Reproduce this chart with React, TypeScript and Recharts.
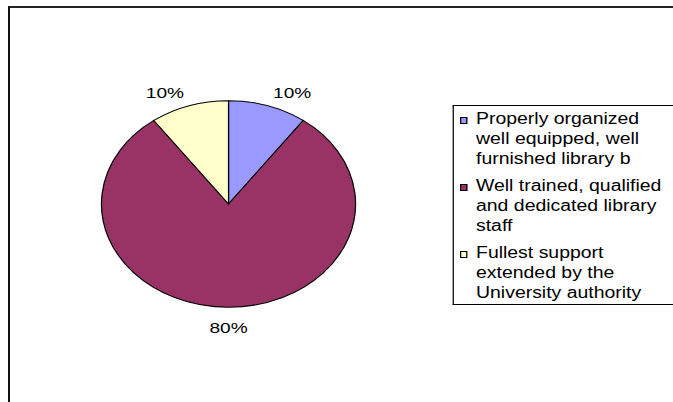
import { Legend, Pie, PieChart, Cell } from "recharts"

const categories = [
  "Properly organized well equipped, well furnished library b",
  "Well trained, qualified and dedicated library staff",
  "Fullest support extended by the University authority",
]
const shares = [10, 80, 10]
const colors = ["#9999FF", "#993366", "#FFFFCC"]

const data = categories.map((name, i) => ({ name, value: shares[i] }))

// the reference is stretched sideways, so draw narrow and scale in x
const STRETCH = 1.23
const W = 673
const H = 402
const INNER_W = W / STRETCH
const FONT = "'Liberation Sans', Arial, sans-serif"
const RAD = Math.PI / 180

const renderLabel = (props: any) => {
  const { cx, cy, midAngle, outerRadius, value } = props
  const cos = Math.cos(midAngle * RAD)
  const sin = Math.sin(midAngle * RAD)
  const ex = cx + outerRadius * cos
  const ey = cy - outerRadius * sin
  const x = ex + cos * 64
  const y = ey - sin * 17 + 3
  return (
    <text
      x={x}
      y={y}
      dy="0.35em"
      textAnchor="middle"
      fill="#000"
      fontSize={15.5}
      fontFamily={FONT}
    >
      {`${value}%`}
    </text>
  )
}

const LegendBox = (props: any) => {
  const items = [...(props.payload || [])].sort(
    (a: any, b: any) => categories.indexOf(a.value) - categories.indexOf(b.value)
  )
  return (
    <div
      style={{
        borderLeft: "1.2px solid #000",
        borderTop: "1px solid #000",
        borderBottom: "1px solid #000",
        width: 190,
        boxSizing: "border-box",
        paddingTop: 3,
        paddingBottom: 1,
        fontFamily: FONT,
        fontSize: 15.8,
        lineHeight: "20px",
        color: "#000",
      }}
    >
      {items.map((entry: any, i: number) => (
        <div
          key={i}
          style={{
            display: "flex",
            alignItems: "flex-start",
            marginBottom: i < items.length - 1 ? 7 : 0,
          }}
        >
          <span
            style={{
              display: "inline-block",
              width: 6,
              height: 7.5,
              marginTop: 7.5,
              marginLeft: 5,
              marginRight: 7.5,
              boxSizing: "border-box",
              border: "1px solid #000",
              background: entry.color,
              flexShrink: 0,
            }}
          />
          <span style={{ width: 158 }}>{entry.value}</span>
        </div>
      ))}
    </div>
  )
}

export default function App() {
  return (
    <div
      style={{
        position: "absolute",
        left: 0,
        top: 0,
        width: W,
        height: H,
        overflow: "hidden",
        background: "#fff",
      }}
    >
      <div
        style={{
          position: "absolute",
          left: 8,
          top: 6,
          width: W - 8,
          height: H - 6,
          boxSizing: "border-box",
          borderLeft: "2px solid #111",
          borderTop: "2px solid #222",
        }}
      />
      <div
        style={{
          position: "absolute",
          left: 0,
          top: 0,
          width: INNER_W,
          height: H,
          transform: `scaleX(${STRETCH})`,
          transformOrigin: "0 0",
        }}
      >
        <PieChart
          width={INNER_W}
          height={H}
          margin={{ top: 0, right: 0, bottom: 0, left: 0 }}
        >
          <Pie
            data={data}
            dataKey="value"
            nameKey="name"
            cx={185.8}
            cy={204}
            outerRadius={103.3}
            startAngle={90}
            endAngle={-270}
            stroke="#000"
            strokeWidth={1}
            label={renderLabel}
            labelLine={false}
            isAnimationActive={false}
          >
            {data.map((_, i) => (
              <Cell key={i} fill={colors[i]} />
            ))}
          </Pie>
          <Legend
            layout="vertical"
            align="right"
            verticalAlign="middle"
            content={<LegendBox />}
            wrapperStyle={{ left: 367.5, top: 105, width: 190 }}
          />
        </PieChart>
      </div>
    </div>
  )
}
